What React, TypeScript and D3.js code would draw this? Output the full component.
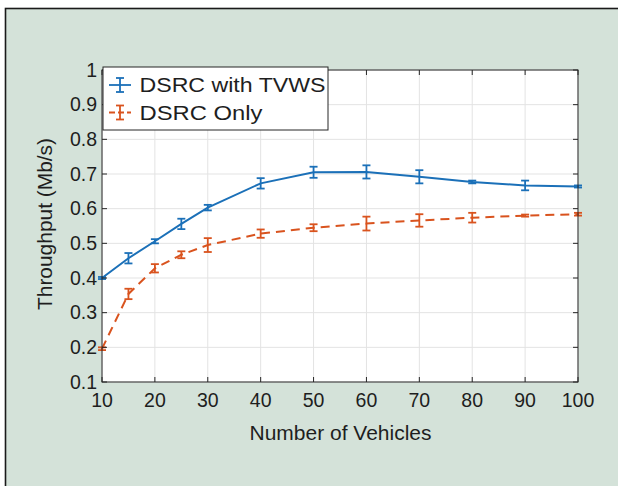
import React from "react";
import * as d3 from "d3";

const xValues = [10, 15, 20, 25, 30, 40, 50, 60, 70, 80, 90, 100];
const tvwsMean = [0.4, 0.457, 0.506, 0.556, 0.603, 0.673, 0.705, 0.706, 0.692, 0.677, 0.667, 0.664];
const tvwsErr = [0.003, 0.015, 0.006, 0.015, 0.008, 0.015, 0.016, 0.019, 0.019, 0.004, 0.014, 0.003];
const onlyMean = [0.196, 0.354, 0.428, 0.467, 0.495, 0.528, 0.545, 0.557, 0.566, 0.574, 0.58, 0.584];
const onlyErr = [0.004, 0.015, 0.012, 0.01, 0.02, 0.012, 0.01, 0.02, 0.018, 0.014, 0.003, 0.004];
const xTicks = [10, 20, 30, 40, 50, 60, 70, 80, 90, 100];
const yTicks = [0.1, 0.2, 0.3, 0.4, 0.5, 0.6, 0.7, 0.8, 0.9, 1];
const seriesNames = ["DSRC with TVWS", "DSRC Only"];

const W = 618, H = 486;
const L = 102, R = 578, T = 70, B = 382;
const BLUE = "#1b70b8";
const RED = "#d9531e";
const FONT = "'Liberation Sans', Arial, Helvetica, sans-serif";
const TXT = "#1e1e1e";

export default function App() {
  const x = d3.scaleLinear().domain([10, 100]).range([L, R]);
  const y = d3.scaleLinear().domain([0.1, 1]).range([B, T]);
  const line = d3.line<[number, number]>().x(d => x(d[0])).y(d => y(d[1]));

  const series = [
    { name: seriesNames[0], mean: tvwsMean, err: tvwsErr, color: BLUE, dash: undefined as string | undefined, tl: 186 },
    { name: seriesNames[1], mean: onlyMean, err: onlyErr, color: RED, dash: "9,6", tl: 123 },
  ];

  const fmt = (v: number) => (v === 1 ? "1" : d3.format(".1f")(v));

  return (
    <svg width={W} height={H} style={{ position: "absolute", left: 0, top: 0, display: "block" }} fontFamily={FONT}>
      <rect x={0} y={0} width={W} height={H} fill="#ffffff" />
      <rect x={5.5} y={8.5} width={W} height={H} fill="#d4e2d9" stroke="#1a1a1a" strokeWidth={1.6} />
      <rect x={L} y={T} width={R - L} height={B - T} fill="#ffffff" />
      {/* grid */}
      {xTicks.map(t => (
        <line key={"gx" + t} x1={x(t)} x2={x(t)} y1={T} y2={B} stroke="#e3e3e3" strokeWidth={1} />
      ))}
      {yTicks.map(t => (
        <line key={"gy" + t} x1={L} x2={R} y1={y(t)} y2={y(t)} stroke="#e3e3e3" strokeWidth={1} />
      ))}
      {/* series */}
      {series.map(s => {
        const pts = xValues.map((v, i) => [v, s.mean[i]] as [number, number]);
        return (
          <g key={s.name}>
            <path d={line(pts) || ""} fill="none" stroke={s.color} strokeWidth={2} strokeDasharray={s.dash} />
            {xValues.map((v, i) => {
              const cx = x(v);
              const y1 = y(s.mean[i] + s.err[i]);
              const y2 = y(s.mean[i] - s.err[i]);
              return (
                <g key={i} stroke={s.color} strokeWidth={1.8}>
                  <line x1={cx} x2={cx} y1={y1} y2={y2} />
                  <line x1={cx - 4} x2={cx + 4} y1={y1} y2={y1} />
                  <line x1={cx - 4} x2={cx + 4} y1={y2} y2={y2} />
                </g>
              );
            })}
          </g>
        );
      })}
      {/* axes box */}
      <rect x={L} y={T} width={R - L} height={B - T} fill="none" stroke="#262626" strokeWidth={1} />
      {xTicks.map(t => (
        <g key={"tx" + t} stroke="#262626">
          <line x1={x(t)} x2={x(t)} y1={B} y2={B - 5} />
          <line x1={x(t)} x2={x(t)} y1={T} y2={T + 5} />
        </g>
      ))}
      {yTicks.map(t => (
        <g key={"ty" + t} stroke="#262626">
          <line x1={L} x2={L + 5} y1={y(t)} y2={y(t)} />
          <line x1={R} x2={R - 5} y1={y(t)} y2={y(t)} />
        </g>
      ))}
      {/* tick labels */}
      {xTicks.map(t => (
        <text key={"lx" + t} x={x(t)} y={B + 25} textAnchor="middle" fontSize={19.5} fill={TXT}>{t}</text>
      ))}
      {yTicks.map(t => (
        <text key={"ly" + t} x={L - 5} y={y(t) + 6.5} textAnchor="end" fontSize={19.5} fill={TXT}>{fmt(t)}</text>
      ))}
      <text x={(L + R) / 2 + 0.5} y={439.5} textAnchor="middle" fontSize={20.5} fill={TXT} textLength={182} lengthAdjust="spacingAndGlyphs">Number of Vehicles</text>
      <text transform={`translate(52,224) rotate(-90)`} textAnchor="middle" fontSize={20.5} fill={TXT} textLength={172} lengthAdjust="spacingAndGlyphs">Throughput (Mb/s)</text>
      {/* legend */}
      <rect x={103} y={67} width={225} height={63} fill="#ffffff" stroke="#262626" strokeWidth={1} />
      {series.map((s, i) => {
        const ly = 85 + i * 27.5;
        return (
          <g key={"lg" + i}>
            <g stroke={s.color} strokeWidth={1.8}>
              <line x1={109} x2={131} y1={ly} y2={ly} strokeDasharray={s.dash ? "6,3" : undefined} />
              <line x1={120} x2={120} y1={ly - 7} y2={ly + 7} />
              <line x1={116} x2={124} y1={ly - 7} y2={ly - 7} />
              <line x1={116} x2={124} y1={ly + 7} y2={ly + 7} />
            </g>
            <text x={139.5} y={ly + 7} fontSize={20.5} fill={TXT} textLength={s.tl} lengthAdjust="spacingAndGlyphs">{s.name}</text>
          </g>
        );
      })}
    </svg>
  );
}
